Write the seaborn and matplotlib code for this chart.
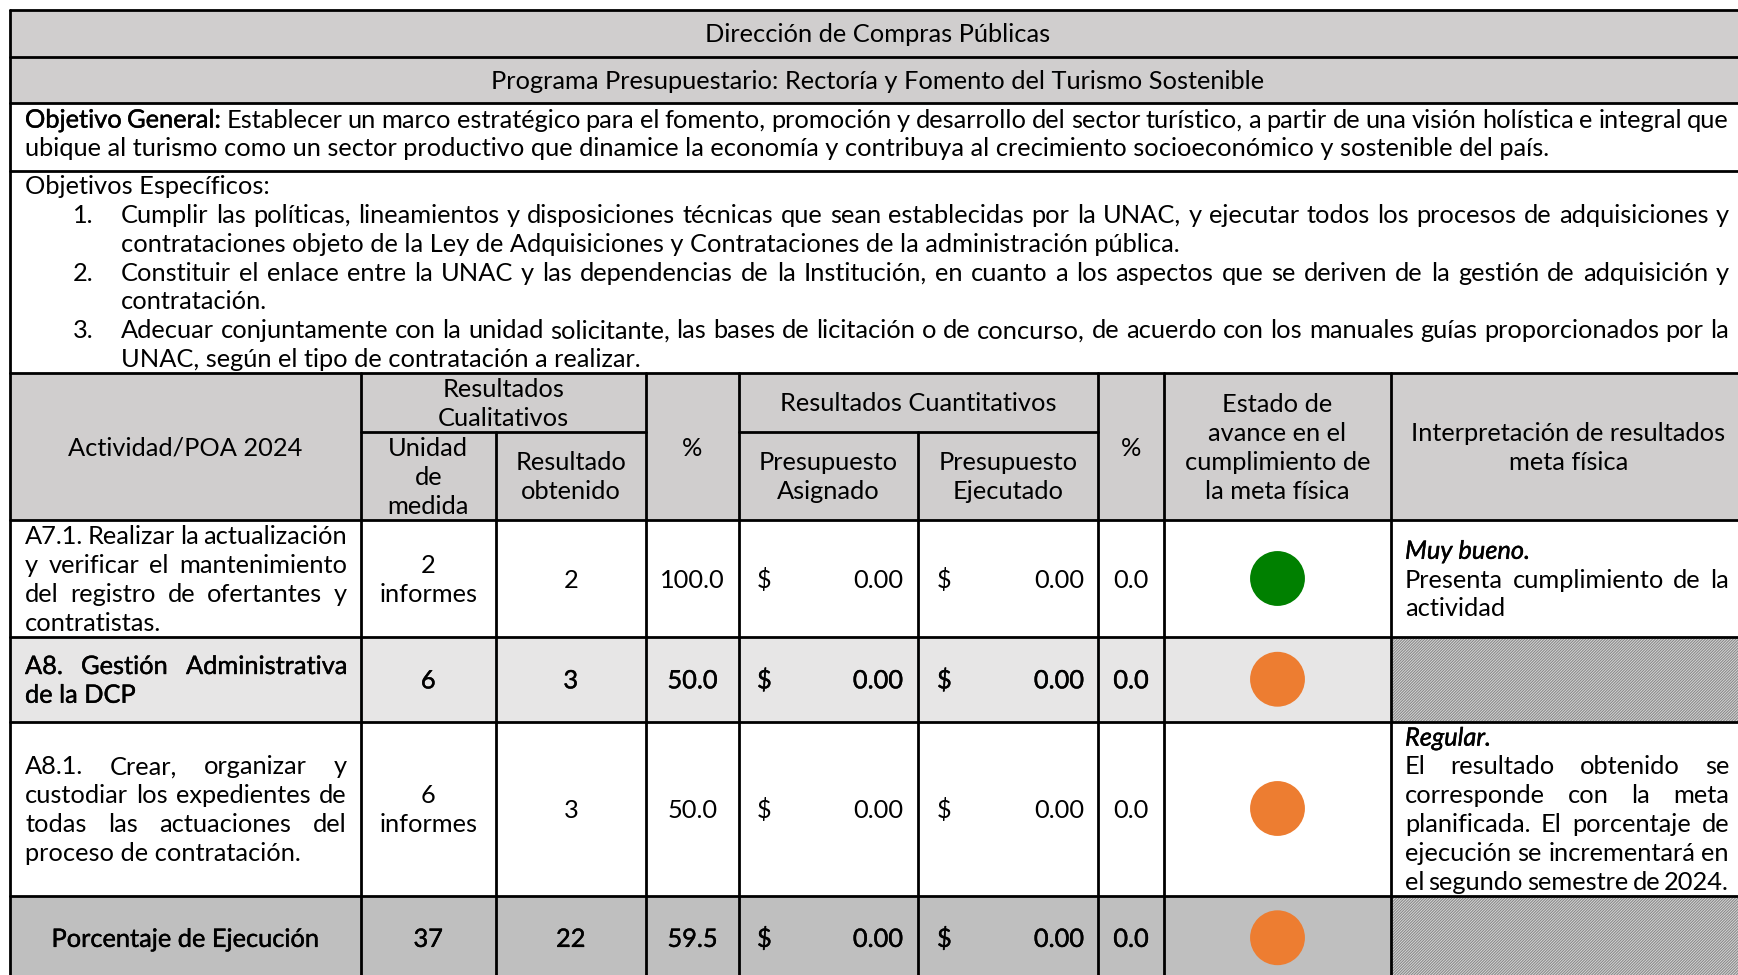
"""Cuadro de seguimiento POA 2024 - Dirección de Compras Públicas."""

import matplotlib.patheffects as pe
import matplotlib.pyplot as plt
import pandas as pd
import seaborn as sns
from matplotlib.patches import Rectangle

sns.set_theme(style="white")
plt.rcParams["font.family"] = ["Lato", "DejaVu Sans"]
plt.rcParams["hatch.linewidth"] = 0.8

# ---- data -----------------------------------------------------------------
title = "Dirección de Compras Públicas"
program = "Programa Presupuestario: Rectoría y Fomento del Turismo Sostenible"
general_lines = [
    "Objetivo General: Establecer un marco estratégico para el fomento, promoción y desarrollo del sector turístico, a partir de una visión holística e integral que",
    "ubique al turismo como un sector productivo que dinamice la economía y contribuya al crecimiento socioeconómico y sostenible del país.",
]
specific_label = "Objetivos Específicos:"
specific_items = [
    ["Cumplir las políticas, lineamientos y disposiciones técnicas que sean establecidas por la UNAC, y ejecutar todos los procesos de adquisiciones y",
     "contrataciones objeto de la Ley de Adquisiciones y Contrataciones de la administración pública."],
    ["Constituir el enlace entre la UNAC y las dependencias de la Institución, en cuanto a los aspectos que se deriven de la gestión de adquisición y",
     "contratación."],
    ["Adecuar conjuntamente con la unidad solicitante, las bases de licitación o de concurso, de acuerdo con los manuales guías proporcionados por la",
     "UNAC, según el tipo de contratación a realizar."],
]

headers = {
    "actividad": ["Actividad/POA 2024"],
    "cualitativos": ["Resultados", "Cualitativos"],
    "unidad": ["Unidad", "de", "medida"],
    "resultado": ["Resultado", "obtenido"],
    "pct": ["%"],
    "cuantitativos": ["Resultados Cuantitativos"],
    "asignado": ["Presupuesto", "Asignado"],
    "ejecutado": ["Presupuesto", "Ejecutado"],
    "estado": ["Estado de", "avance en el", "cumplimiento de", "la meta física"],
    "interp": ["Interpretación de resultados", "meta física"],
}

activities = [
    ["A7.1. Realizar la actualización", "y verificar el mantenimiento", "del registro de ofertantes y", "contratistas."],
    ["A8. Gestión Administrativa", "de la DCP"],
    ["A8.1. Crear, organizar y", "custodiar los expedientes de", "todas las actuaciones del", "proceso de contratación."],
    ["Porcentaje de Ejecución"],
]
units = [["2", "informes"], ["6"], ["6", "informes"], ["37"]]
obtained = [2, 3, 3, 22]
pct_physical = [100.0, 50.0, 50.0, 59.5]
budget_assigned = [0.00, 0.00, 0.00, 0.00]
budget_executed = [0.00, 0.00, 0.00, 0.00]
pct_budget = [0.0, 0.0, 0.0, 0.0]
status = ["Muy bueno", "Regular", "Regular", "Regular"]
interp_lines = [
    ["Presenta cumplimiento de la", "actividad"],
    None,
    ["El resultado obtenido se", "corresponde con la meta", "planificada. El porcentaje de",
     "ejecución se incrementará en", "el segundo semestre de 2024."],
    None,
]
status_colors = {"Muy bueno": "#008000", "Regular": "#ED7D31"}

# ---- layout (pixels) --------------------------------------------------------
W, H = 1738, 975
cols = [10, 361, 495.5, 646, 739, 918, 1098, 1164, 1391, 1746]
top_rows = [10, 56.5, 102.5, 171, 373]
head_mid = 431.5
rows = [520, 637, 721.5, 895.5, 980]
DY = 28.8
HEAD_GRAY = "#D0CECE"
row_fill = ["white", "#E7E6E6", "white", "#BFBFBF"]
row_strong = [False, True, False, True]
REG, STRONG = "regular", "strong"
THICK = [pe.withStroke(linewidth=0.3, foreground="black")]

fig = plt.figure(figsize=(W / 100, H / 100), dpi=100)
ax = fig.add_axes([0, 0, 1, 1])
ax.set_xlim(0, W)
ax.set_ylim(H, 0)
ax.axis("off")
renderer = fig.canvas.get_renderer()

# calibrate font size on a left aligned line of the reference
FS = 16.0
for _ in range(2):
    probe = ax.text(0, 0, general_lines[1], fontsize=FS)
    FS = FS * 1521 / probe.get_window_extent(renderer).width
    probe.remove()
BASE = 0.36 * FS * 100 / 72


def put(x, y, s, ha="left", weight=REG, style="normal"):
    t = ax.text(x, y + BASE, s, ha=ha, va="baseline", fontsize=FS,
                fontstyle=style, color="black", zorder=5)
    if weight == STRONG:
        t.set_path_effects(THICK)
    return t


def width(t):
    return t.get_window_extent(renderer).width


def justify(lines, x0, x1, y0, weight=REG, strong_words=0):
    for i, line in enumerate(lines):
        y = y0 + i * DY
        words = line.split()
        n_strong = strong_words if i == 0 else 0
        if i == len(lines) - 1 or len(words) == 1:
            t = put(x0, y, line, weight=weight)
            if len(words) == 1 or width(t) <= x1 - x0:
                continue
            t.remove()
        texts = [put(0, y, w, weight=STRONG if j < n_strong else weight)
                 for j, w in enumerate(words)]
        ws = [width(t) for t in texts]
        gap = (x1 - x0 - sum(ws)) / (len(words) - 1)
        x = x0
        for t, w in zip(texts, ws):
            t.set_x(x)
            x += w + gap


def centered(lines, xc, yc, weight=REG):
    n = len(lines)
    for i, s in enumerate(lines):
        put(xc, yc + (i - (n - 1) / 2) * DY, s, ha="center", weight=weight)


def rect(x0, y0, x1, y1, **kw):
    ax.add_patch(Rectangle((x0, y0), x1 - x0, y1 - y0, **kw))


# ---- backgrounds --------------------------------------------------------------
rect(cols[0], top_rows[0], cols[-1], top_rows[2], facecolor=HEAD_GRAY, linewidth=0)
rect(cols[0], top_rows[4], cols[-1], rows[0], facecolor=HEAD_GRAY, linewidth=0)
for i, fill in enumerate(row_fill):
    rect(cols[0], rows[i], cols[-1], rows[i + 1], facecolor=fill, linewidth=0)
    if interp_lines[i] is None:
        rect(cols[8], rows[i], cols[9], rows[i + 1], facecolor="#DCDCDC",
             edgecolor="#8A8A8A", hatch="////////////", linewidth=0)

# ---- grid lines ---------------------------------------------------------------
LW = 2.0
for y in top_rows + rows[:-1]:
    ax.plot([cols[0], cols[-1]], [y, y], color="black", lw=LW, zorder=4)
ax.plot([cols[1], cols[3]], [head_mid, head_mid], color="black", lw=LW, zorder=4)
ax.plot([cols[4], cols[6]], [head_mid, head_mid], color="black", lw=LW, zorder=4)
ax.plot([cols[0], cols[0]], [top_rows[0], rows[-1]], color="black", lw=LW, zorder=4)
ax.plot([cols[-1], cols[-1]], [top_rows[0], rows[-1]], color="black", lw=LW, zorder=4)
for k in [1, 3, 4, 6, 7, 8]:
    ax.plot([cols[k], cols[k]], [top_rows[4], rows[-1]], color="black", lw=LW, zorder=4)
for k in [2, 5]:
    ax.plot([cols[k], cols[k]], [head_mid, rows[-1]], color="black", lw=LW, zorder=4)

# ---- top texts ---------------------------------------------------------------
xc_all = (cols[0] + cols[-1]) / 2
put(xc_all, (top_rows[0] + top_rows[1]) / 2, title, ha="center")
put(xc_all, (top_rows[1] + top_rows[2]) / 2, program, ha="center")
justify(general_lines, 25, 1729, 118.5, strong_words=2)
put(25, 185, specific_label)
y = 185 + DY
for n, item in enumerate(specific_items, start=1):
    put(73, y, f"{n}.")
    justify(item, 121, 1729, y)
    y += DY * len(item)

# ---- header --------------------------------------------------------------------
hmid = (top_rows[4] + rows[0]) / 2
sub_top = (top_rows[4] + head_mid) / 2
sub_bot = (head_mid + rows[0]) / 2
mid = lambda a, b: (cols[a] + cols[b]) / 2
centered(headers["actividad"], mid(0, 1), hmid)
centered(headers["cualitativos"], mid(1, 3), sub_top)
centered(headers["unidad"], mid(1, 2), sub_bot)
centered(headers["resultado"], mid(2, 3), sub_bot)
centered(headers["pct"], mid(3, 4), hmid)
centered(headers["cuantitativos"], mid(4, 6), sub_top)
centered(headers["asignado"], mid(4, 5), sub_bot)
centered(headers["ejecutado"], mid(5, 6), sub_bot)
centered(headers["pct"], mid(6, 7), hmid)
centered(headers["estado"], mid(7, 8), hmid)
centered(headers["interp"], mid(8, 9), hmid)

# ---- body ------------------------------------------------------------------------
row_mid = [(rows[i] + rows[i + 1]) / 2 for i in range(len(activities))]
for i in range(len(activities)):
    yc = row_mid[i]
    wt = STRONG if row_strong[i] else REG
    lines = activities[i]
    if len(lines) == 1:
        centered(lines, mid(0, 1), yc, weight=wt)
    else:
        justify(lines, 25, 347, yc - (len(lines) - 1) / 2 * DY, weight=wt)
    centered(units[i], mid(1, 2), yc, weight=wt)
    centered([str(obtained[i])], mid(2, 3), yc, weight=wt)
    centered([f"{pct_physical[i]:.1f}"], mid(3, 4), yc, weight=wt)
    put(cols[4] + 18, yc, "$", weight=wt)
    put(cols[5] - 15, yc, f"{budget_assigned[i]:.2f}", ha="right", weight=wt)
    put(cols[5] + 19, yc, "$", weight=wt)
    put(cols[6] - 14, yc, f"{budget_executed[i]:.2f}", ha="right", weight=wt)
    centered([f"{pct_budget[i]:.1f}"], mid(6, 7), yc, weight=wt)
    if interp_lines[i] is not None:
        block = interp_lines[i]
        y0 = yc - len(block) / 2 * DY
        put(1405, y0, status[i] + ".", style="italic", weight=STRONG)
        justify(block, 1405, 1729, y0 + DY)

dots = pd.DataFrame({"x": [mid(7, 8)] * len(status), "y": row_mid, "status": status})
sns.scatterplot(data=dots, x="x", y="y", hue="status", palette=status_colors,
                s=1560, linewidth=0, legend=False, ax=ax, zorder=6)
ax.set_xlim(0, W)
ax.set_ylim(H, 0)
ax.axis("off")

fig.savefig("out.png", dpi=100)
